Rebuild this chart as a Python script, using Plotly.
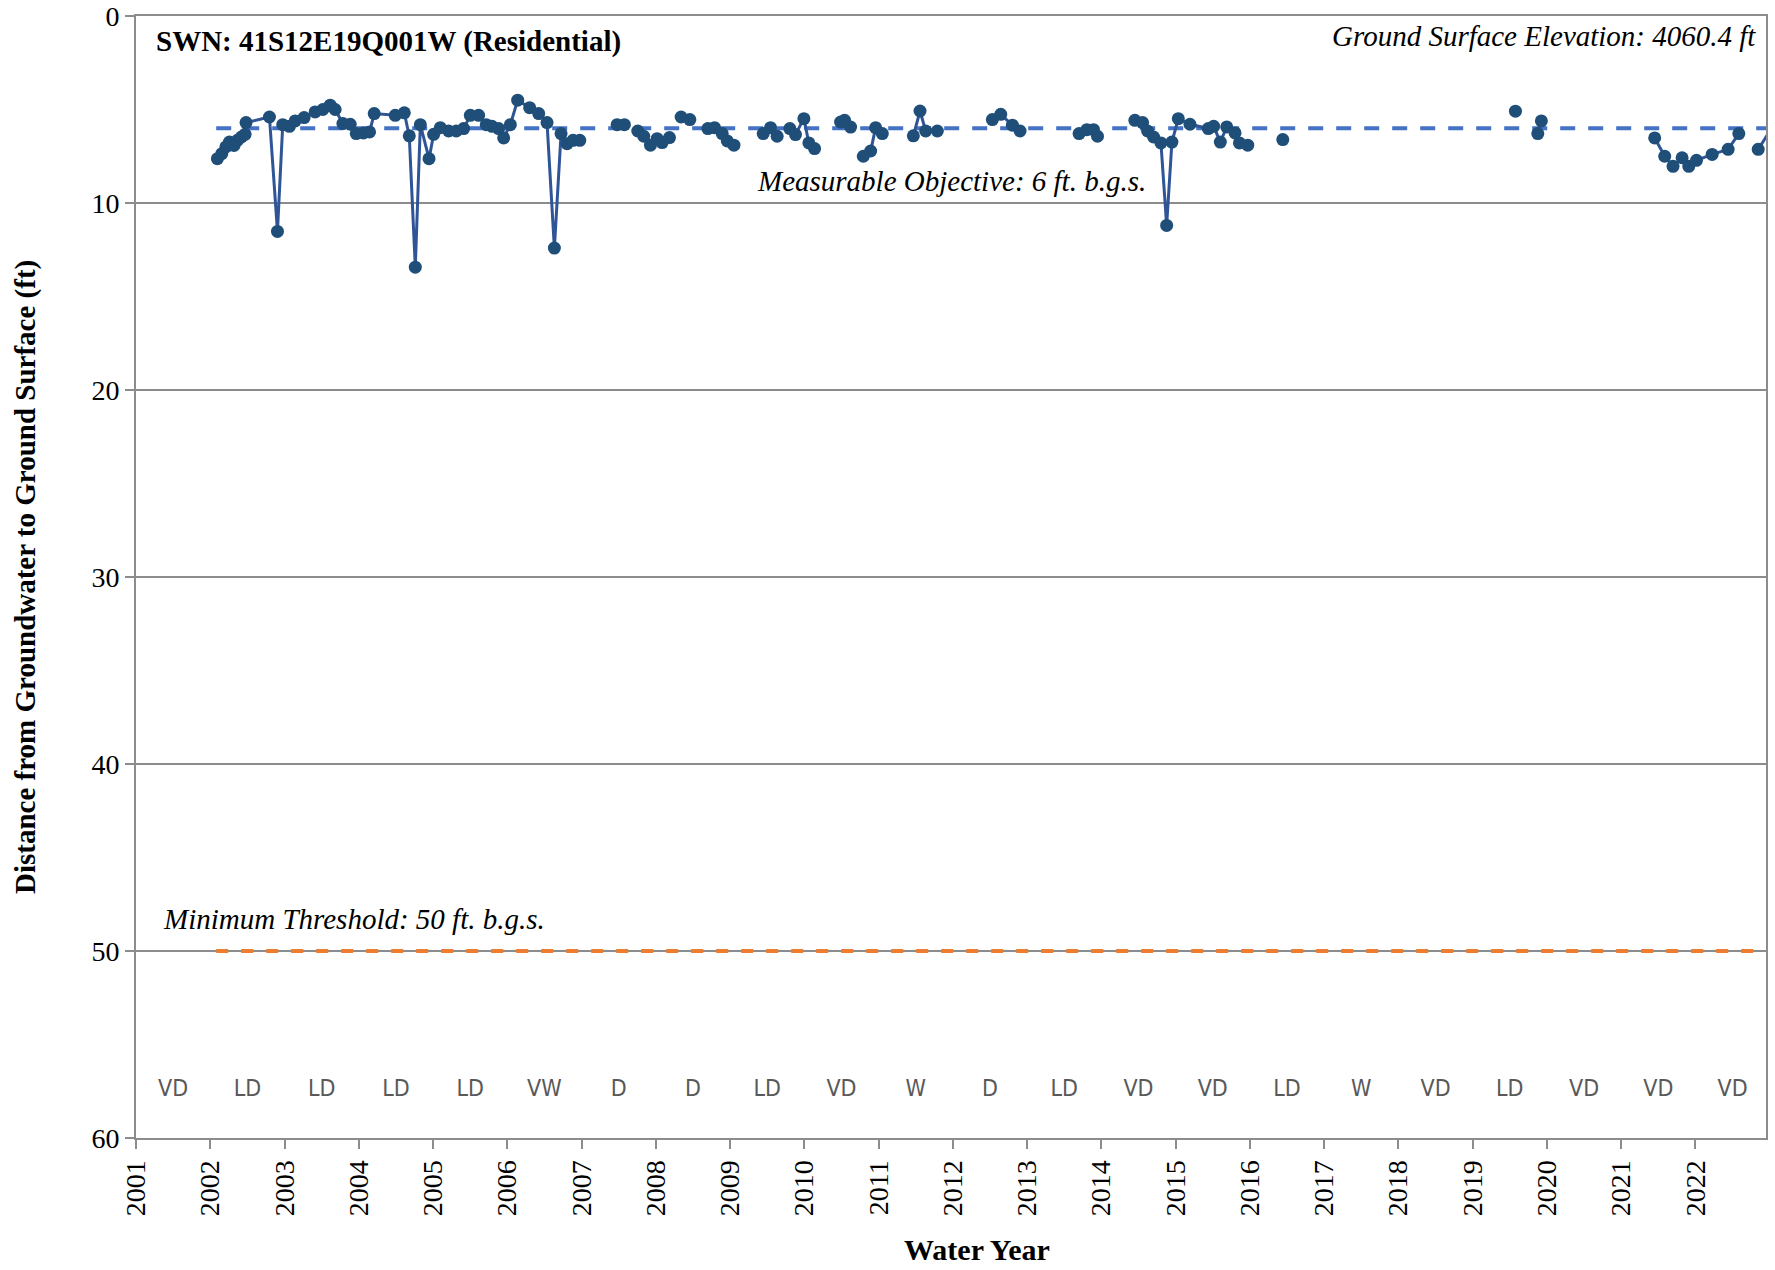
import plotly.graph_objects as go

# ---- data (decimal water-year position, depth to water in ft; None = gap in line) ----
meas_x = [
    2002.096, 2002.155, 2002.21, 2002.258, 2002.32, 2002.366, 2002.42, 2002.469, 2002.482,
    2002.797, 2002.905, 2002.976, 2003.066, 2003.143, 2003.264, 2003.412, 2003.516, 2003.615,
    2003.682, 2003.786, 2003.885, 2003.966, 2004.064, 2004.145, 2004.208, 2004.491, 2004.613,
    2004.68, 2004.761, 2004.829, 2004.946, 2005.008, 2005.098, 2005.21, 2005.313, 2005.412,
    2005.502, 2005.614, 2005.717, 2005.794, 2005.884, 2005.951, 2006.041, 2006.14, 2006.301,
    2006.423, 2006.535, 2006.634, 2006.724, 2006.805, 2006.886, 2006.976, None,
    2007.479, 2007.577, None,
    2007.757, 2007.838, 2007.928, 2008.018, 2008.085, 2008.184, None,
    2008.341, 2008.458, None,
    2008.701, 2008.791, 2008.894, 2008.962, 2009.052, None,
    2009.446, 2009.545, 2009.634, None,
    2009.805, 2009.881, 2009.994, 2010.061, 2010.138, None,
    2010.488, 2010.542, 2010.623, None,
    2010.794, 2010.893, 2010.96, 2011.05, None,
    2011.468, 2011.558, 2011.634, None,
    2011.791, None,
    2012.532, 2012.645, 2012.802, 2012.905, None,
    2013.70, 2013.805, 2013.894, 2013.948, None,
    2014.451, 2014.555, 2014.622, 2014.703, 2014.802, 2014.879, 2014.95, 2015.036, 2015.193,
    2015.44, 2015.512, 2015.602, 2015.688, 2015.80, 2015.859, 2015.971, None,
    2016.443, None,
    2019.576, None,
    2019.877, 2019.925, None,
    2021.451, 2021.586, 2021.698, 2021.82, 2021.91, 2022.014, 2022.225, 2022.44, 2022.584, None,
    2022.845, 2023.05,
]
meas_depth = [
    7.63, 7.36, 7.00, 6.74, 6.92, 6.65, 6.47, 6.33, 5.70,
    5.40, 11.52, 5.81, 5.90, 5.61, 5.43, 5.13, 5.00, 4.77,
    5.00, 5.75, 5.79, 6.29, 6.25, 6.20, 5.22, 5.31, 5.18,
    6.41, 13.43, 5.81, 7.63, 6.33, 5.97, 6.15, 6.15, 6.02,
    5.31, 5.31, 5.81, 5.90, 6.02, 6.52, 5.81, 4.50, 4.90,
    5.22, 5.70, 12.41, 6.29, 6.83, 6.65, 6.65, None,
    5.81, 5.81, None,
    6.15, 6.43, 6.91, 6.56, 6.77, 6.50, None,
    5.40, 5.54, None,
    6.02, 5.97, 6.29, 6.68, 6.91, None,
    6.29, 5.97, 6.43, None,
    6.02, 6.34, 5.49, 6.79, 7.09, None,
    5.67, 5.58, 5.94, None,
    7.50, 7.22, 5.97, 6.29, None,
    6.41, 5.08, 6.15, None,
    6.15, None,
    5.54, 5.26, 5.84, 6.15, None,
    6.29, 6.08, 6.08, 6.43, None,
    5.58, 5.70, 6.15, 6.47, 6.79, 11.20, 6.74, 5.49, 5.79,
    6.02, 5.90, 6.74, 5.93, 6.25, 6.79, 6.91, None,
    6.61, None,
    5.09, None,
    6.29, 5.61, None,
    6.52, 7.50, 8.04, 7.58, 8.04, 7.72, 7.40, 7.13, 6.29, None,
    7.13, 5.85,
]

objective_ft = 6
threshold_ft = 50
line_start = 2002.08
line_end = 2023.0

water_years = list(range(2001, 2023))
year_types = ["VD", "LD", "LD", "LD", "LD", "VW", "D", "D", "LD", "VD", "W",
              "D", "LD", "VD", "VD", "LD", "W", "VD", "LD", "VD", "VD", "VD"]
year_type_depth = 57.45

SERIF = "Liberation Serif, Times New Roman, serif"
NARROW = "Liberation Sans Narrow, DejaVu Sans Condensed, Arial Narrow, sans-serif"
GRID = "#8c8c8c"

fig = go.Figure()

fig.add_trace(go.Scatter(
    x=[line_start, line_end], y=[objective_ft, objective_ft], mode="lines",
    line=dict(color="#4472C4", width=4, dash="15px,13px"), hoverinfo="skip", showlegend=False))
fig.add_trace(go.Scatter(
    x=[line_start, line_end], y=[threshold_ft, threshold_ft], mode="lines",
    line=dict(color="#ED7D31", width=4, dash="12px,13px"), hoverinfo="skip", showlegend=False))

fig.add_trace(go.Scatter(
    x=meas_x, y=meas_depth, mode="lines+markers", connectgaps=False,
    line=dict(color="#2F5597", width=3),
    marker=dict(color="#1F4E79", size=13, line=dict(width=0)),
    showlegend=False))

# water year type labels
fig.add_trace(go.Scatter(
    x=[y + 0.5 for y in water_years], y=[year_type_depth] * len(water_years),
    mode="text", text=year_types,
    textfont=dict(family=NARROW, size=23, color="#595959"),
    hoverinfo="skip", showlegend=False))

annotations = [
    dict(x=0.011, y=0.977, xref="paper", yref="paper", xanchor="left", yanchor="middle",
         text="<b>SWN: 41S12E19Q001W (Residential)</b>", showarrow=False,
         font=dict(family=SERIF, size=29, color="black")),
    dict(x=0.995, y=0.982, xref="paper", yref="paper", xanchor="right", yanchor="middle",
         text="<i>Ground Surface Elevation: 4060.4 ft</i>", showarrow=False,
         font=dict(family=SERIF, size=29, color="black")),
    dict(x=2011.98, y=8.84, xref="x", yref="y", xanchor="center", yanchor="middle",
         text="<i>Measurable Objective: 6 ft. b.g.s.</i>", showarrow=False,
         font=dict(family=SERIF, size=29, color="black")),
    dict(x=2001.33, y=48.3, xref="x", yref="y", xanchor="left", yanchor="middle",
         text="<i>Minimum Threshold: 50 ft. b.g.s.</i>", showarrow=False,
         font=dict(family=SERIF, size=29, color="black")),
    # axis titles
    dict(x=-0.0681, y=0.5, xref="paper", yref="paper", xanchor="center", yanchor="middle",
         textangle=-90, showarrow=False,
         text="<b>Distance from Groundwater to Ground Surface (ft)</b>",
         font=dict(family=SERIF, size=29, color="black")),
    dict(x=0.516, y=-0.0998, xref="paper", yref="paper", xanchor="center", yanchor="middle",
         showarrow=False, text="<b>Water Year</b>",
         font=dict(family=SERIF, size=30, color="black")),
]

fig.update_layout(
    width=1775, height=1270,
    margin=dict(l=136, r=9, t=16, b=132, autoexpand=False),
    paper_bgcolor="white", plot_bgcolor="white",
    annotations=annotations,
    font=dict(family=SERIF, color="black"),
)

fig.update_xaxes(
    range=[2001, 2022.95], tickmode="array", tickvals=water_years,
    ticktext=[str(y) for y in water_years], tickangle=-90,
    tickfont=dict(family=SERIF, size=28, color="black"),
    ticks="outside", ticklen=9, tickwidth=2, tickcolor=GRID,
    showgrid=False, zeroline=False, automargin=False, ticklabeloverflow="allow",
    showline=True, linecolor=GRID, linewidth=2, mirror=True,
)
fig.update_yaxes(
    range=[60, 0], tickmode="array", tickvals=[0, 10, 20, 30, 40, 50, 60],
    tickfont=dict(family=SERIF, size=28, color="black"),
    ticks="outside", ticklen=9, tickwidth=2, tickcolor=GRID,
    showgrid=True, gridcolor=GRID, gridwidth=1.5, zeroline=False, automargin=False,
    ticklabeloverflow="allow",
    showline=True, linecolor=GRID, linewidth=2, mirror=True,
)

# remove the default page margin so the figure fills the window exactly
fig.write_html("out.html",
               config={"displayModeBar": False},
               post_script="document.body.style.margin='0';document.body.style.overflow='hidden';")
